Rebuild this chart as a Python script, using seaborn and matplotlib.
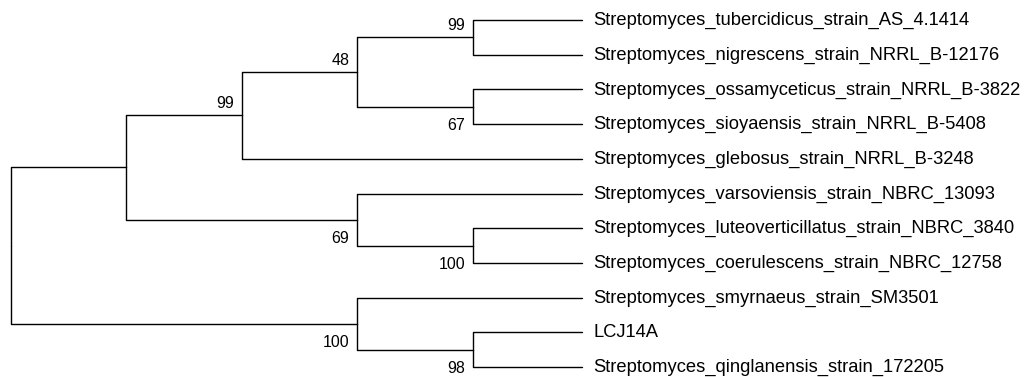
import matplotlib.pyplot as plt
import pandas as pd
import seaborn as sns

sns.set_style('white')
plt.rcParams['font.family'] = ['Liberation Sans', 'DejaVu Sans']
plt.rcParams['text.color'] = 'black'

tip_labels = [
    'Streptomyces_tubercidicus_strain_AS_4.1414',
    'Streptomyces_nigrescens_strain_NRRL_B-12176',
    'Streptomyces_ossamyceticus_strain_NRRL_B-3822',
    'Streptomyces_sioyaensis_strain_NRRL_B-5408',
    'Streptomyces_glebosus_strain_NRRL_B-3248',
    'Streptomyces_varsoviensis_strain_NBRC_13093',
    'Streptomyces_luteoverticillatus_strain_NBRC_3840',
    'Streptomyces_coerulescens_strain_NBRC_12758',
    'Streptomyces_smyrnaeus_strain_SM3501',
    'LCJ14A',
    'Streptomyces_qinglanensis_strain_172205',
]
# topology, tips given by index into tip_labels, bootstrap after ')'
newick = '(((((0,1)99,(2,3)67)48,4)99,(5,(6,7)100)69),(8,(9,10)98)100);'

TIP_X = 4.945  # tips drawn slightly short of the next level


def parse(s, i=0):
    if s[i] == '(':
        kids = []
        i += 1
        while True:
            child, i = parse(s, i)
            kids.append(child)
            if s[i] == ',':
                i += 1
                continue
            i += 1  # ')'
            break
        j = i
        while j < len(s) and s[j].isdigit():
            j += 1
        sup = int(s[i:j]) if j > i else None
        return {'children': kids, 'support': sup}, j
    j = i
    while s[j].isdigit():
        j += 1
    return {'children': [], 'tip': int(s[i:j])}, j


def height(n):
    if not n['children']:
        n['h'] = 0
    else:
        n['h'] = 1 + max(height(c) for c in n['children'])
    return n['h']


root, _ = parse(newick)
H = height(root)


def layout(n):
    if not n['children']:
        n['x'] = TIP_X
        n['y'] = n['tip']
    else:
        n['x'] = H - n['h']
        for c in n['children']:
            layout(c)
        n['y'] = sum(c['y'] for c in n['children']) / len(n['children'])


layout(root)

rows = []
nodes = []
seg = 0


def walk(n):
    global seg
    for k, c in enumerate(n['children']):
        for px, py in [(n['x'], n['y']), (n['x'], c['y']), (c['x'], c['y'])]:
            rows.append({'x': px, 'y': py, 'seg': seg})
        seg += 1
        if c['children'] and c['support'] is not None:
            nodes.append((c, k == 0))
        walk(c)


walk(root)
segs = pd.DataFrame(rows)

fig = plt.figure(figsize=(10.34, 3.77), dpi=100)
ax = fig.add_axes([0, 0, 1, 1])
sns.lineplot(data=segs, x='x', y='y', units='seg', estimator=None, sort=False,
             color='black', lw=1.0, ax=ax)

for c, upper in nodes:
    if upper:
        ax.annotate(str(c['support']), (c['x'], c['y']), xytext=(-8, 7),
                    textcoords='offset pixels', ha='right', va='baseline',
                    fontsize=11.5)
    else:
        ax.annotate(str(c['support']), (c['x'], c['y']), xytext=(-8, -11),
                    textcoords='offset pixels', ha='right', va='top',
                    fontsize=11.5)

for i, name in enumerate(tip_labels):
    ax.annotate(name, (TIP_X, i), xytext=(11, 1.5), textcoords='offset pixels',
                ha='left', va='center_baseline', fontsize=13.25)

px_per_level = 115.6
ax.set_xlim(-10.5 / px_per_level, (1034 - 10.5) / px_per_level)
ax.set_ylim((377 - 20) / 34.7, -20 / 34.7)
ax.axis('off')

plt.savefig('out.png', dpi=100)
